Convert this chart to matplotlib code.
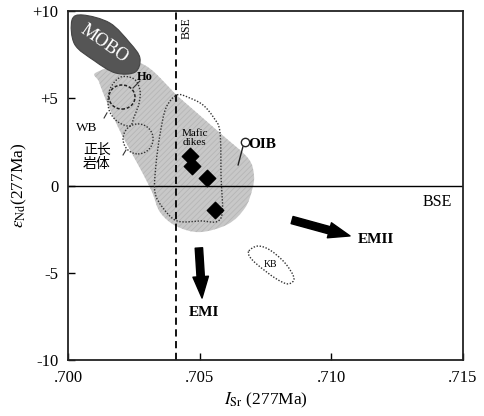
import numpy as np
import matplotlib.pyplot as plt
from matplotlib.path import Path
from matplotlib.patches import PathPatch, Ellipse

plt.rcParams['font.family'] = ['Liberation Serif', 'Noto Sans CJK SC', 'DejaVu Sans']
plt.rcParams['mathtext.fontset'] = 'stix'
plt.rcParams['hatch.linewidth'] = 0.6

# data (Isr, eNd)
dike_x = [0.70463, 0.70471, 0.70528, 0.70558]
dike_y = [1.69, 1.12, 0.43, -1.40]

mobo_x = [0.70015, 0.70057, 0.70159, 0.70235, 0.70273, 0.70255, 0.70180, 0.70100, 0.70025]
mobo_y = [9.48, 9.77, 9.31, 8.17, 7.31, 6.50, 6.45, 7.15, 8.10]

oib_x = [0.70110, 0.70273, 0.70425, 0.70577, 0.70683, 0.70706, 0.70699, 0.70672, 0.70608,
         0.70501, 0.70410, 0.70349, 0.70319, 0.70273, 0.70205, 0.70152, 0.70118]
oib_y = [6.50, 7.02, 5.01, 3.01, 1.58, 0.60, -0.26, -1.29, -2.21,
         -2.67, -2.32, -1.52, -0.37, 1.00, 2.89, 4.61, 5.93]

mafic_x = [0.70414, 0.70463, 0.70513, 0.70554, 0.70577, 0.70581, 0.70581, 0.70501, 0.70414,
           0.70361, 0.70330, 0.70334, 0.70349, 0.70372]
mafic_y = [5.19, 5.01, 4.61, 3.87, 3.07, 0.60, -1.86, -2.03, -2.03,
           -1.29, -0.37, 1.18, 2.89, 4.44]

wb_x = [0.70152, 0.70163, 0.70201, 0.70251, 0.70273, 0.70270, 0.70251, 0.70235, 0.70190, 0.70159]
wb_y = [4.90, 5.64, 6.22, 6.10, 5.47, 4.73, 3.93, 3.41, 3.64, 4.21]

kb_x = [0.70687, 0.70721, 0.70767, 0.70824, 0.70858, 0.70835, 0.70786, 0.70721, 0.70691]
kb_y = [-3.75, -3.47, -3.70, -4.44, -5.30, -5.64, -5.30, -4.56, -4.10]

ho_center = (0.70205, 5.07)
ho_size = (0.00099, 1.38)
syenite_center = (0.70266, 2.67)
syenite_size = (0.00114, 1.72)

bse_sr = 0.70410
emi_arrow = [(0.70497, -3.58), (0.70509, -6.45)]
emii_arrow = [(0.70851, -1.98), (0.71071, -2.89)]

xticks = [0.700, 0.705, 0.710, 0.715]
xticklabels = ['.700', '.705', '.710', '.715']
yticks = [-10, -5, 0, 5, 10]
yticklabels = ['-10', '-5', '0', '+5', '+10']


def smooth_closed(xs, ys):
    # closed catmull-rom curve as bezier path
    p = np.column_stack([xs, ys])
    n = len(p)
    verts = [p[0]]
    codes = [Path.MOVETO]
    for i in range(n):
        p0, p1, p2, p3 = p[i - 1], p[i], p[(i + 1) % n], p[(i + 2) % n]
        verts += [p1 + (p2 - p0) / 6, p2 - (p3 - p1) / 6, p2]
        codes += [Path.CURVE4] * 3
    verts.append(p[0])
    codes.append(Path.CLOSEPOLY)
    return Path(verts, codes)


fig = plt.figure(figsize=(4.85, 4.16), dpi=100)
ax = fig.add_axes([68 / 485, 56 / 416, 395 / 485, 349 / 416])

# OIB field (grey hatched)
ax.add_patch(PathPatch(smooth_closed(oib_x, oib_y), fc='#c8c8c8', ec='none', zorder=1))
ax.add_patch(PathPatch(smooth_closed(oib_x, oib_y), fc='none', ec='#b6b6b6', lw=0,
                       hatch='//////', zorder=1.1))

# MOBO
ax.add_patch(PathPatch(smooth_closed(mobo_x, mobo_y), fc='#555555', ec='#444444', lw=0.8, zorder=2))
ax.text(0.70136, 8.1, 'MOBO', color='white', fontsize=13, rotation=-35,
        ha='center', va='center', zorder=3)

dot = (0, (1, 1.2))
ax.add_patch(PathPatch(smooth_closed(mafic_x, mafic_y), fc='none', ec='#333333', lw=1.0,
                       ls=dot, zorder=3))
ax.add_patch(PathPatch(smooth_closed(wb_x, wb_y), fc='none', ec='#333333', lw=1.0,
                       ls=dot, zorder=3))
ax.add_patch(PathPatch(smooth_closed(kb_x, kb_y), fc='none', ec='#333333', lw=1.0,
                       ls=dot, zorder=3))
ax.add_patch(Ellipse(ho_center, ho_size[0], ho_size[1], fc='none', ec='#222222', lw=1.1,
                     ls=(0, (2, 1.2)), zorder=3))
ax.add_patch(Ellipse(syenite_center, syenite_size[0], syenite_size[1], fc='none', ec='#333333',
                     lw=1.0, ls=dot, zorder=3))

# reference lines
ax.axhline(0, color='black', lw=1.0, zorder=2.5)
ax.axvline(bse_sr, color='black', lw=1.3, ls=(0, (4, 2.5)), zorder=2.5)

# mafic dikes
ax.scatter(dike_x, dike_y, marker='D', s=70, color='black', zorder=4)

# arrows
for a in (emi_arrow, emii_arrow):
    ax.annotate('', xy=a[1], xytext=a[0],
                arrowprops=dict(arrowstyle='simple,head_length=1.1,head_width=0.8,tail_width=0.38',
                                fc='black', ec='black', mutation_scale=14, shrinkA=0, shrinkB=0),
                zorder=4)

# leader lines
ax.plot([0.70247, 0.70273], [5.59, 5.99], color='#333333', lw=0.8, zorder=3)
ax.plot([0.70148, 0.70137], [4.16, 3.87], color='#333333', lw=0.8, zorder=3)
ax.plot([0.70220, 0.70209], [2.03, 1.75], color='#333333', lw=0.8, zorder=3)
ax.plot([0.70664, 0.70646], [2.21, 1.18], color='#222222', lw=1.0, zorder=3)
ax.plot([0.70672], [2.49], marker='o', ms=6, mfc='white', mec='#222222', mew=1.0, zorder=3)

# labels
ax.text(0.70452, 9.0, 'BSE', rotation=90, fontsize=8.5, ha='center', va='center')
ax.text(0.70290, 6.2, 'Ho', fontsize=9, fontweight='bold', ha='center', va='center')
ax.text(0.70072, 3.3, 'WB', fontsize=9.5, ha='center', va='center')
ax.text(0.70110, 1.6, '正长\n岩体', fontsize=10, ha='center', va='center', linespacing=1.15)
ax.text(0.70482, 2.72, 'Mafic\ndikes', fontsize=8, ha='center', va='center', linespacing=0.9)
ax.text(0.70738, 2.35, 'OIB', fontsize=11, fontweight='bold', ha='center', va='center')
ax.text(0.70767, -4.55, 'KB', fontsize=7, ha='center', va='center')
ax.text(0.71401, -0.95, 'BSE', fontsize=11.5, ha='center', va='center')
ax.text(0.71170, -3.1, 'EMII', fontsize=11, fontweight='bold', ha='center', va='center')
ax.text(0.70515, -7.3, 'EMI', fontsize=11, fontweight='bold', ha='center', va='center')

ax.set_xlim(0.700, 0.715)
ax.set_ylim(-10, 10)
ax.set_xticks(xticks)
ax.set_xticklabels(xticklabels, fontsize=12)
ax.set_yticks(yticks)
ax.set_yticklabels(yticklabels, fontsize=12)
ax.tick_params(direction='in', length=5, width=1.0, pad=7)
for s in ax.spines.values():
    s.set_linewidth(1.3)
    s.set_color('#222222')

ax.set_xlabel(r'$I_{\mathrm{Sr}}$ (277Ma)', fontsize=12.5, labelpad=4)
ax.set_ylabel(r'$\varepsilon_{\mathrm{Nd}}$(277Ma)', fontsize=12.5, labelpad=2)

fig.savefig('out.png', dpi=100)
